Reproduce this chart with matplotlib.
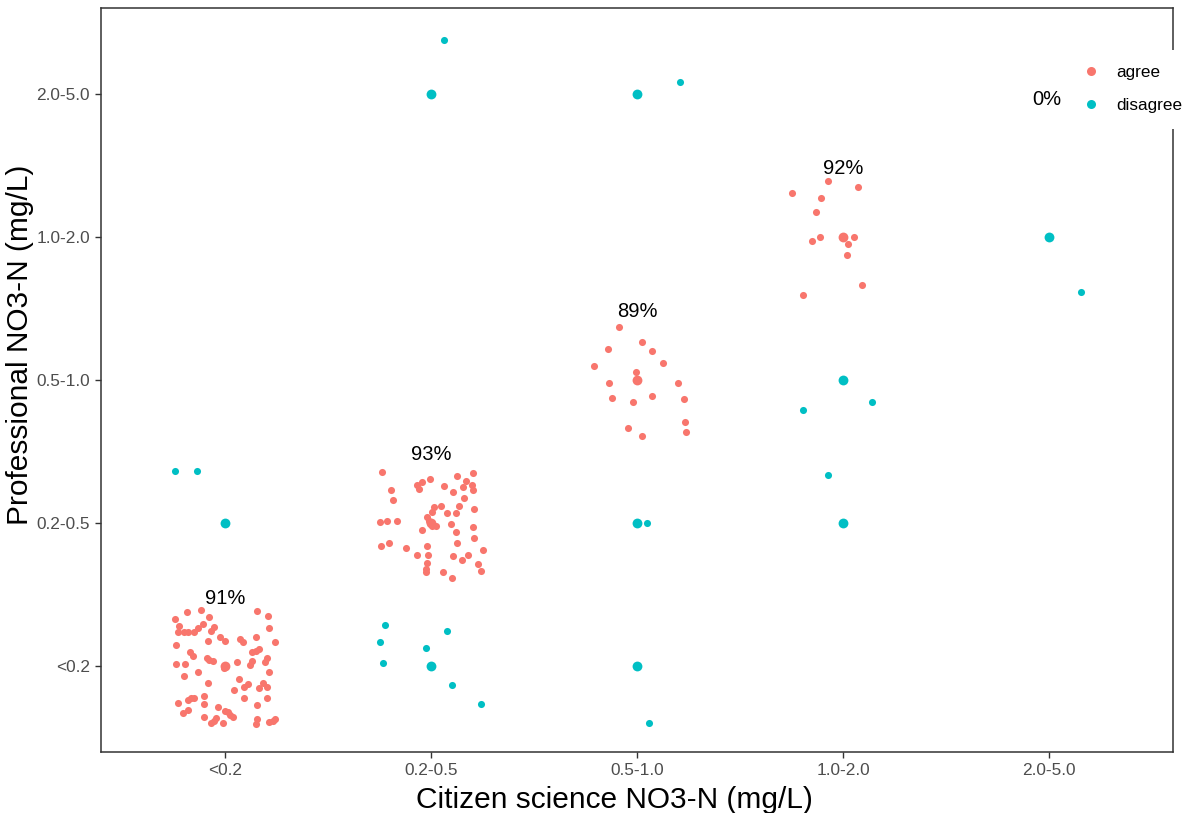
import matplotlib
matplotlib.use("Agg")
import matplotlib.pyplot as plt
from matplotlib.lines import Line2D

plt.rcParams['font.family'] = ['Liberation Sans', 'DejaVu Sans']

categories = ['<0.2', '0.2-0.5', '0.5-1.0', '1.0-2.0', '2.0-5.0']

# jittered points, in category units (1..5)
agree_x = [0.758, 0.816, 0.884, 0.923, 1.155, 1.208, 0.777, 0.772, 0.801, 0.821, 0.850, 0.869, 0.893,
           0.947, 0.932, 1.213, 0.976, 1.000, 0.918, 1.073, 1.087, 1.150, 1.242, 0.763, 0.831, 0.845,
           1.131, 1.150, 1.165, 0.913, 0.923, 0.942, 0.995, 1.058, 1.131, 1.121, 1.203, 1.194, 0.763,
           0.806, 1.213, 0.869, 0.801, 0.918, 1.068, 1.111, 1.092, 1.044, 1.184, 1.203, 1.165, 0.772,
           0.821, 0.835, 0.850, 0.898, 0.898, 1.092, 1.203, 0.797, 0.821, 0.966, 1.000, 1.015, 1.024,
           1.039, 1.155, 0.898, 0.956, 0.947, 0.932, 0.990, 1.155, 1.150, 1.213, 1.232, 1.242,
           # 0.2-0.5 column
           1.765, 1.809, 1.818, 1.935, 1.944, 1.959, 1.998, 2.065, 2.109, 2.128, 2.172, 2.206, 2.157,
           2.201, 2.206, 2.162, 2.138, 2.211, 2.017, 2.051, 2.007, 2.080, 2.123, 1.983, 1.993, 2.007,
           2.027, 1.751, 1.789, 1.838, 1.959, 2.099, 2.206, 2.123, 2.211, 1.760, 1.799, 1.881, 1.983,
           2.128, 1.935, 1.988, 2.109, 2.153, 2.182, 2.254, 1.983, 1.978, 1.978, 2.061, 2.104, 2.230,
           2.245,
           # 0.5-1.0 column
           2.913, 3.024, 2.860, 3.073, 3.126, 2.792, 2.995, 2.864, 3.199, 2.879, 2.981, 3.073, 3.228,
           3.232, 3.237, 2.956, 3.024,
           # 1.0-2.0 column
           3.927, 4.073, 3.753, 3.893, 3.869, 3.850, 3.889, 4.053, 4.024, 4.019, 4.092, 3.806]
agree_y = [1.328, 1.377, 1.391, 1.342, 1.384, 1.349, 1.279, 1.237, 1.237, 1.237, 1.237, 1.265, 1.293,
           1.272, 1.244, 1.265, 1.202, 1.174, 1.174, 1.188, 1.167, 1.202, 1.167, 1.147, 1.098, 1.070,
           1.098, 1.105, 1.119, 1.056, 1.042, 1.035, 0.986, 1.028, 1.035, 1.007, 1.056, 1.028, 1.014,
           1.014, 0.958, 0.958, 0.930, 0.881, 0.909, 0.874, 0.853, 0.833, 0.881, 0.853, 0.846, 0.742,
           0.763, 0.777, 0.777, 0.791, 0.735, 0.777, 0.777, 0.672, 0.693, 0.714, 0.686, 0.679, 0.658,
           0.644, 0.728, 0.644, 0.637, 0.616, 0.602, 0.602, 0.630, 0.595, 0.609, 0.616, 0.630,
           2.356, 2.230, 2.161, 2.265, 2.237, 2.286, 2.307, 2.258, 2.216, 2.328, 2.293, 2.349, 2.251,
           2.265, 2.230, 2.174, 2.119, 2.098, 2.112, 2.119, 2.077, 2.070, 2.070, 2.042, 2.014, 1.979,
           1.979, 2.007, 2.014, 2.014, 1.951, 1.993, 1.972, 1.937, 1.895, 1.839, 1.860, 1.826, 1.839,
           1.860, 1.777, 1.777, 1.770, 1.742, 1.777, 1.812, 1.721, 1.679, 1.658, 1.658, 1.616, 1.714,
           1.665,
           3.370, 3.265, 3.216, 3.202, 3.119, 3.098, 3.056, 2.979, 2.979, 2.874, 2.846, 2.888, 2.867,
           2.707, 2.637, 2.665, 2.609,
           4.391, 4.349, 4.307, 4.272, 4.174, 3.972, 4.000, 4.000, 3.951, 3.874, 3.665, 3.595]

disagree_x = [0.758, 0.864,
              1.780, 1.751, 1.770, 1.978, 2.080, 2.104, 2.245, 2.065,
              3.048, 3.058, 3.208,
              4.140, 3.806, 3.927,
              5.155]
disagree_y = [2.361, 2.361,
              1.286, 1.167, 1.021, 1.126, 1.244, 0.867, 0.735, 5.377,
              2.000, 0.602, 5.084,
              2.846, 2.791, 2.335,
              3.616]

# un-jittered points at the cell centres
agree_cx = [1, 2, 3, 4]
agree_cy = [1, 2, 3, 4]
disagree_cx = [1, 2, 2, 3, 3, 3, 4, 4, 5]
disagree_cy = [2, 1, 5, 5, 2, 1, 3, 2, 4]

pct_labels = ['91%', '93%', '89%', '92%', '0%']
pct_x = [1, 2, 3, 4, 4.99]
pct_y = [1.475, 2.48, 3.48, 4.48, 4.96]

red = '#F8766D'
teal = '#00BFC4'

fig = plt.figure(figsize=(11.94, 8.13), dpi=100)
ax = fig.add_axes([101/1194, 1-752/813, (1173-101)/1194, (752-8)/813])

ax.scatter(agree_x, agree_y, s=26, color=red, linewidths=0, zorder=3)
ax.scatter(agree_cx, agree_cy, s=50, color=red, linewidths=0, zorder=3)
ax.scatter(disagree_x, disagree_y, s=26, color=teal, linewidths=0, zorder=3)
ax.scatter(disagree_cx, disagree_cy, s=50, color=teal, linewidths=0, zorder=3)

for lab, x, y in zip(pct_labels, pct_x, pct_y):
    ax.text(x, y, lab, ha='center', va='center', fontsize=14.5, color='black', zorder=4)

ax.set_xlim(0.4, 5.6)
ax.set_ylim(0.4, 5.6)
ax.set_xticks(range(1, 6))
ax.set_xticklabels(categories)
ax.set_yticks(range(1, 6))
ax.set_yticklabels(categories)
ax.tick_params(axis='both', direction='out', length=4, width=1, color='#333333',
               labelsize=12.4, labelcolor='#4D4D4D', pad=4)
for sp in ax.spines.values():
    sp.set_color('#333333')
    sp.set_linewidth(1.1)

ax.set_xlabel('Citizen science NO3-N (mg/L)', fontsize=21.5, color='black')
ax.set_ylabel('Professional NO3-N (mg/L)', fontsize=21.5, color='black')
ax.xaxis.set_label_coords((614-101)/1072, (752-800)/744)
ax.yaxis.set_label_coords((20-101)/1072, (752-345)/744)
ax.xaxis.label.set_va('center')
ax.yaxis.label.set_va('center')

handles = [Line2D([], [], marker='o', linestyle='none', color=red, markersize=6.5, markeredgewidth=0),
           Line2D([], [], marker='o', linestyle='none', color=teal, markersize=6.5, markeredgewidth=0)]
leg = fig.legend(handles, ['agree', 'disagree'], loc='upper left',
                 bbox_to_anchor=(1067/1194, 1-50/813), frameon=True, fontsize=12.3,
                 handletextpad=1.0, labelspacing=1.05, borderpad=0.9, handlelength=1.0,
                 borderaxespad=0)
leg.get_frame().set_facecolor('white')
leg.get_frame().set_edgecolor('none')
leg.get_frame().set_alpha(1)
leg.get_frame().set_boxstyle('square', pad=0)

fig.savefig('out.png', dpi=100)
